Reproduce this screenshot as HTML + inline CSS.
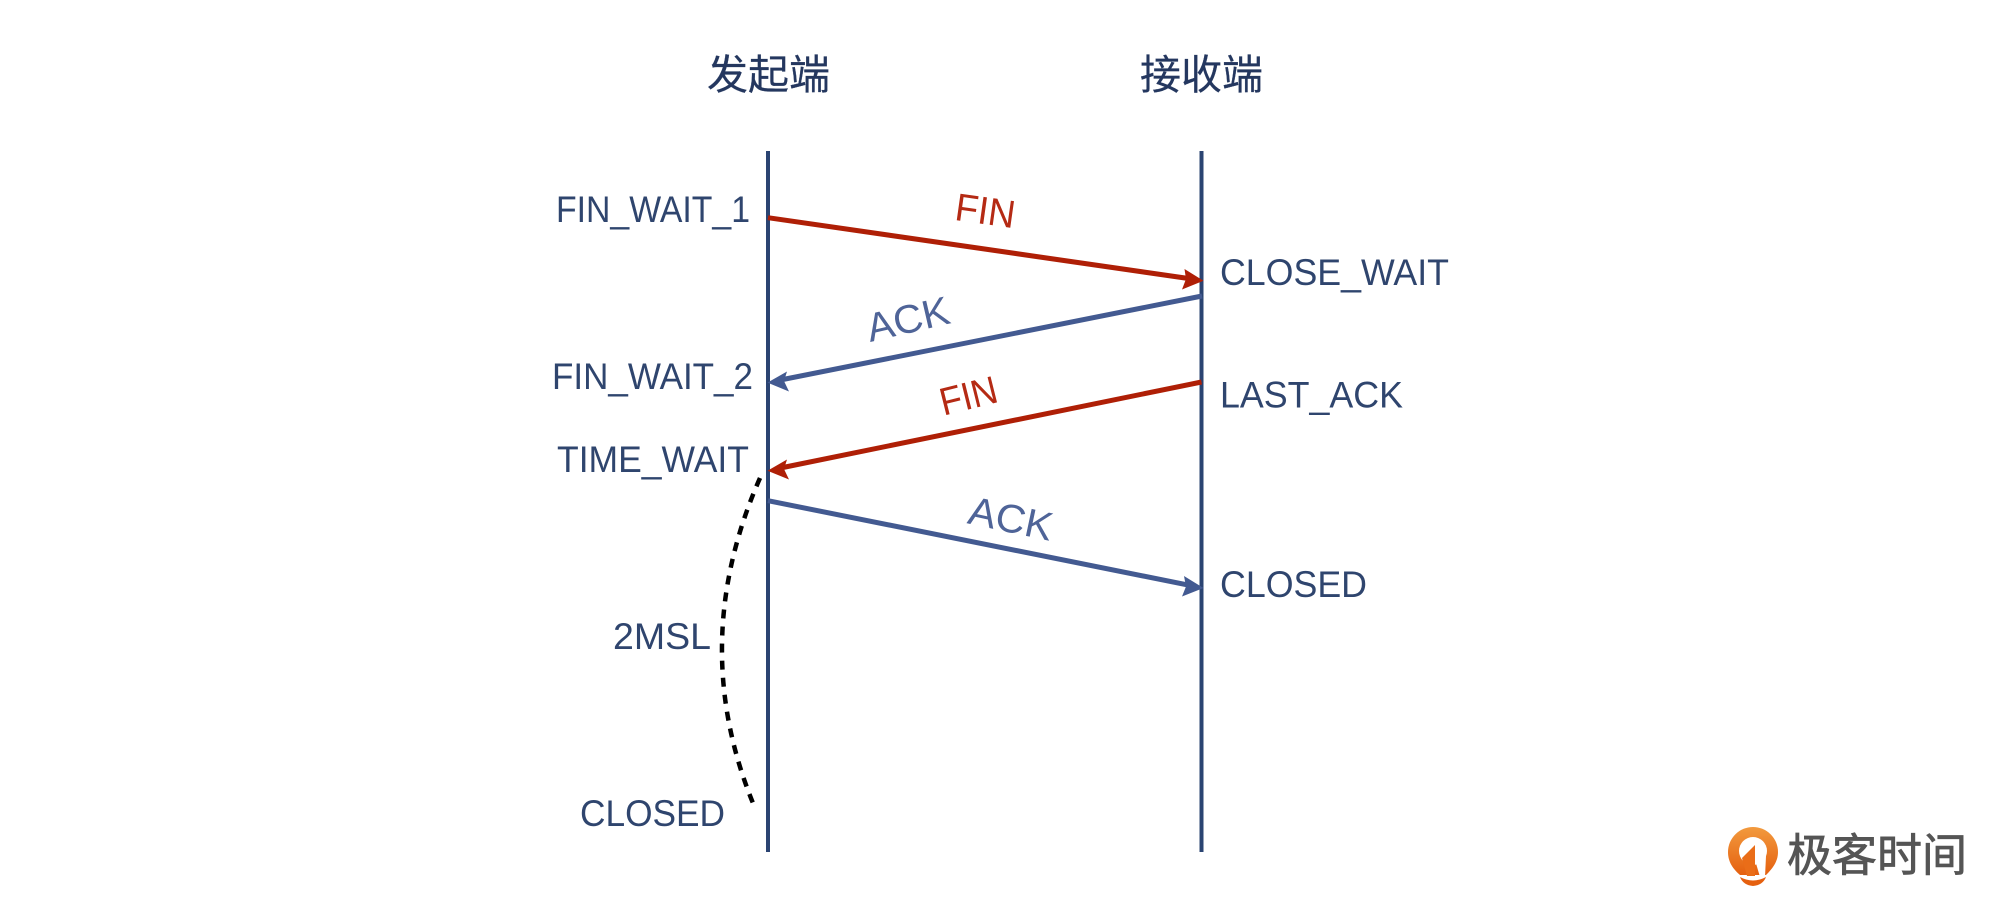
<!DOCTYPE html>
<html lang="zh">
<head>
<meta charset="utf-8">
<title>TCP 四次挥手</title>
<style>
html,body{margin:0;padding:0;background:#fff;width:2000px;height:908px;overflow:hidden}
svg{display:block}
text{font-family:"Liberation Sans","Noto Sans CJK SC",sans-serif}
.s{font-size:37px;fill:#2f456e}
.t{font-size:41px;fill:#24375f;stroke:#24375f;stroke-width:.25}
.r{font-size:39px;fill:#b52a14}
.b{font-size:40px;fill:#4f6498}
</style>
</head>
<body>
<svg width="2000" height="908" viewBox="0 0 2000 908" xmlns="http://www.w3.org/2000/svg">
<defs>
<linearGradient id="g" x1="0" y1="0" x2="0" y2="1"><stop offset="0" stop-color="#f29a3e"/><stop offset="1" stop-color="#e5600f"/></linearGradient>
</defs>
<rect width="2000" height="908" fill="#fff"/>

<text class="t" x="707" y="89" textLength="123" lengthAdjust="spacingAndGlyphs">发起端</text>
<text class="t" x="1140" y="89" textLength="123" lengthAdjust="spacingAndGlyphs">接收端</text>

<line x1="768" y1="151" x2="768" y2="852" stroke="#2b4472" stroke-width="4"/>
<line x1="1201.5" y1="151" x2="1201.5" y2="852" stroke="#2b4472" stroke-width="4"/>

<!-- FIN 1 -->
<line x1="768" y1="217.7" x2="1192" y2="279" stroke="#af1f06" stroke-width="5"/>
<path d="M1203.5 280.7L1182 289.5L1186 279L1184.5 269Z" fill="#af1f06"/>
<!-- ACK 1 -->
<line x1="1202" y1="296" x2="778" y2="380.5" stroke="#435a91" stroke-width="5"/>
<path d="M767.5 382.6L787 371.5L784 381L789 391.5Z" fill="#435a91"/>
<!-- FIN 2 -->
<line x1="1201.5" y1="382" x2="778" y2="468.5" stroke="#af1f06" stroke-width="5"/>
<path d="M767.5 470.7L787 459.5L784 469L789 479.5Z" fill="#af1f06"/>
<!-- ACK 2 -->
<line x1="768" y1="500.7" x2="1192" y2="585.8" stroke="#435a91" stroke-width="5"/>
<path d="M1203.5 588L1182 596.5L1186 586.5L1184 576Z" fill="#435a91"/>

<!-- 2MSL arc -->
<path d="M760 478Q686.5 645 755 808" fill="none" stroke="#000" stroke-width="4.5" stroke-dasharray="9 8.1"/>

<text class="s" x="556" y="222" textLength="194" lengthAdjust="spacingAndGlyphs">FIN_WAIT_1</text>
<text class="s" x="552" y="389" textLength="201" lengthAdjust="spacingAndGlyphs">FIN_WAIT_2</text>
<text class="s" x="557" y="472" textLength="192" lengthAdjust="spacingAndGlyphs">TIME_WAIT</text>
<text class="s" x="613" y="649" textLength="98" lengthAdjust="spacingAndGlyphs">2MSL</text>
<text class="s" x="580" y="826" textLength="145" lengthAdjust="spacingAndGlyphs">CLOSED</text>
<text class="s" x="1220" y="285" textLength="229" lengthAdjust="spacingAndGlyphs">CLOSE_WAIT</text>
<text class="s" x="1220" y="407.5" textLength="183" lengthAdjust="spacingAndGlyphs">LAST_ACK</text>
<text class="s" x="1220" y="597" textLength="147" lengthAdjust="spacingAndGlyphs">CLOSED</text>

<text class="r" text-anchor="middle" textLength="60" lengthAdjust="spacingAndGlyphs" transform="translate(983.5 224) rotate(8)">FIN</text>
<text class="b" text-anchor="middle" textLength="84" lengthAdjust="spacingAndGlyphs" transform="translate(911 332.5) rotate(-13)">ACK</text>
<text class="r" text-anchor="middle" textLength="58" lengthAdjust="spacingAndGlyphs" transform="translate(971.7 408.7) rotate(-14)">FIN</text>
<text class="b" text-anchor="middle" textLength="85" lengthAdjust="spacingAndGlyphs" transform="translate(1008 532) rotate(12)">ACK</text>

<!-- logo -->
<path d="M1728 852a25 25 0 0 1 50 0c0 10-6 17-12 23h-26c-7-6-12-13-12-23Z" fill="url(#g)"/>
<circle cx="1753" cy="851" r="14" fill="#fff"/>
<path d="M1755 845L1742 858L1747 876L1755 876Z" fill="#ea6d18"/>
<path d="M1755 860L1766 856L1765 877L1760 877Z" fill="#fff"/>
<path d="M1740 877q13 7 26 0q-3 8-13 9q-10-1-13-9Z" fill="#e5600f"/>
<text x="1787" y="871" font-size="45" fill="#555" textLength="180" lengthAdjust="spacingAndGlyphs" stroke="#555" stroke-width=".8">极客时间</text>
</svg>
</body>
</html>
